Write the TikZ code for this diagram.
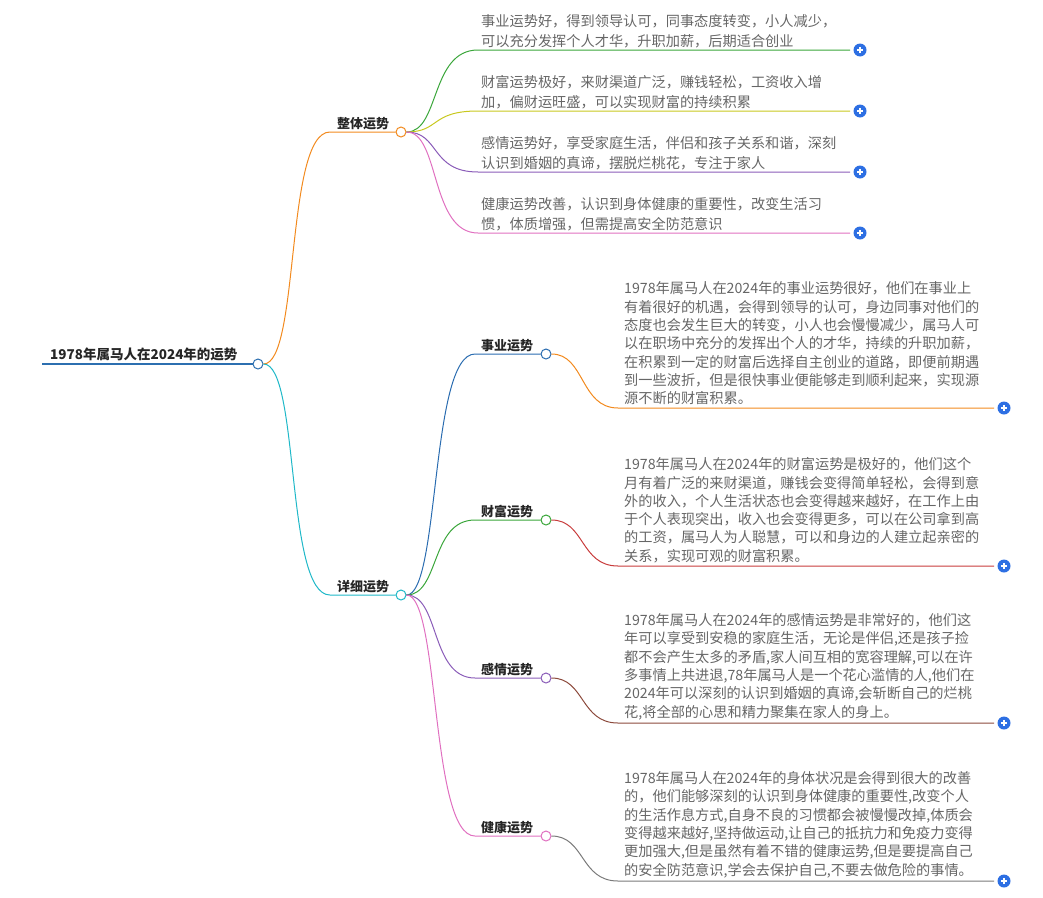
\documentclass[tikz,border=0pt]{standalone}
\usepackage{fontspec}
\setmainfont{Noto Sans CJK SC}
\definecolor{txt}{HTML}{666666}
\definecolor{cOr}{HTML}{F28A1E}
\definecolor{cCy}{HTML}{1FB8C8}
\definecolor{cRoot}{HTML}{2C6FB0}
\definecolor{cGr}{HTML}{3AA63A}
\definecolor{cYe}{HTML}{C8C81E}
\definecolor{cPu}{HTML}{8A5CB8}
\definecolor{cPk}{HTML}{E070C0}
\definecolor{cBl}{HTML}{2A6CB0}
\definecolor{cRd}{HTML}{C83C3C}
\definecolor{cBr}{HTML}{8C4A3C}
\definecolor{cGy}{HTML}{7A7A7A}
\definecolor{plusb}{HTML}{2D6FE3}
\tikzset{
 leaf/.style={anchor=south west,inner sep=0pt,align=left,text=txt,font=\fontsize{14.2}{20}\selectfont},
 dleaf/.style={anchor=south west,inner sep=0pt,align=left,text=txt,font=\fontsize{14.2}{18.3}\selectfont},
 br/.style={anchor=south west,inner sep=0pt,font=\fontsize{13}{16}\selectfont\bfseries,text=black!85},
 knob/.style={circle,draw,fill=white,inner sep=0pt,minimum size=10pt,line width=1pt},
 plus/.style={circle,fill=plusb,inner sep=0pt,minimum size=13pt,path picture={\draw[white,line width=1.4pt](path picture bounding box.center)++(-3.2pt,0)--++(6.4pt,0)(path picture bounding box.center)++(0,-3.2pt)--++(0,6.4pt);}},
 con/.style={line width=1pt}
}
\begin{document}
\begin{tikzpicture}[x=1pt,y=-1pt]
\useasboundingbox (0,0) rectangle (1043,897);
% root
\node[br,font=\fontsize{13.5}{16}\selectfont\bfseries] (root) at (50,361) {1978年属马人在2024年的运势};
\draw[cRoot,line width=2.5pt] (42,364) -- (253,364);
\node[knob,draw=cRoot] (rk) at (258,364) {};
% level 1
\node[br] (zt) at (337,130) {整体运势};
\coordinate (zts) at (330,132);
\node[knob,draw=cOr] (ztk) at (401,132) {};
\draw[cOr,con] (rk.east) .. controls (300,364) and (285,132) .. (zts) -- (ztk.west);
\node[br] (xx) at (337,593) {详细运势};
\coordinate (xxs) at (330,595);
\node[knob,draw=cCy] (xxk) at (401,595) {};
\draw[cCy,con] (rk.east) .. controls (300,364) and (285,595) .. (xxs) -- (xxk.west);
% overall leaves
\foreach \y/\c/\t [count=\i] in {
 50/cGr/{事业运势好，得到领导认可，同事态度转变，小人减少，\\可以充分发挥个人才华，升职加薪，后期适合创业},
 111/cYe/{财富运势极好，来财渠道广泛，赚钱轻松，工资收入增\\加，偏财运旺盛，可以实现财富的持续积累},
 172/cPu/{感情运势好，享受家庭生活，伴侣和孩子关系和谐，深刻\\认识到婚姻的真谛，摆脱烂桃花，专注于家人},
 233/cPk/{健康运势改善，认识到身体健康的重要性，改变生活习\\惯，体质增强，但需提高安全防范意识}}{
 \node[leaf] (o\i) at (481,\y-2) {\t};
 \coordinate (os\i) at (478,\y);
 \node[plus] (op\i) at (860,\y) {};
 \draw[\c,con] (ztk.east) .. controls (440,132) and (430,\y) .. (os\i) -- (850,\y);
}
% detail branches
\foreach \y/\c/\t/\n in {354/cBl/事业运势/a,520/cGr/财富运势/b,678/cPu/感情运势/c,836/cPk/健康运势/d}{
 \node[br] (\n) at (481,\y-2) {\t};
 \coordinate (\n s) at (475,\y);
 \node[knob,draw=\c] (\n k) at (546,\y) {};
 \draw[\c,con] (xxk.east) .. controls (440,595) and (430,\y) .. (\n s) -- (\n k.west);
}
\foreach \ya/\y/\c/\n/\t in {
 354/408/cOr/a/{1978年属马人在2024年的事业运势很好，他们在事业上\\有着很好的机遇，会得到领导的认可，身边同事对他们的\\态度也会发生巨大的转变，小人也会慢慢减少，属马人可\\以在职场中充分的发挥出个人的才华，持续的升职加薪，\\在积累到一定的财富后选择自主创业的道路，即便前期遇\\到一些波折，但是很快事业便能够走到顺利起来，实现源\\源不断的财富积累。},
 520/566/cRd/b/{1978年属马人在2024年的财富运势是极好的，他们这个\\月有着广泛的来财渠道，赚钱会变得简单轻松，会得到意\\外的收入，个人生活状态也会变得越来越好，在工作上由\\于个人表现突出，收入也会变得更多，可以在公司拿到高\\的工资，属马人为人聪慧，可以和身边的人建立起亲密的\\关系，实现可观的财富积累。},
 678/723/cBr/c/{1978年属马人在2024年的感情运势是非常好的，他们这\\年可以享受到安稳的家庭生活，无论是伴侣,还是孩子捡\\都不会产生太多的矛盾,家人间互相的宽容理解,可以在许\\多事情上共进退,78年属马人是一个花心滥情的人,他们在\\2024年可以深刻的认识到婚姻的真谛,会斩断自己的烂桃\\花,将全部的心思和精力聚集在家人的身上。},
 836/881/cGy/d/{1978年属马人在2024年的身体状况是会得到很大的改善\\的，他们能够深刻的认识到身体健康的重要性,改变个人\\的生活作息方式,自身不良的习惯都会被慢慢改掉,体质会\\变得越来越好,坚持做运动,让自己的抵抗力和免疫力变得\\更加强大,但是虽然有着不错的健康运势,但是要提高自己\\的安全防范意识,学会去保护自己,不要去做危险的事情。}}{
 \node[dleaf] (\n t) at (624,\y-3) {\t};
 \coordinate (\n e) at (618,\y);
 \node[plus] (\n p) at (1004,\y) {};
 \draw[\c,con] (\n k.east) .. controls (585,\ya) and (580,\y) .. (\n e) -- (994,\y);
}
\end{tikzpicture}
\end{document}
